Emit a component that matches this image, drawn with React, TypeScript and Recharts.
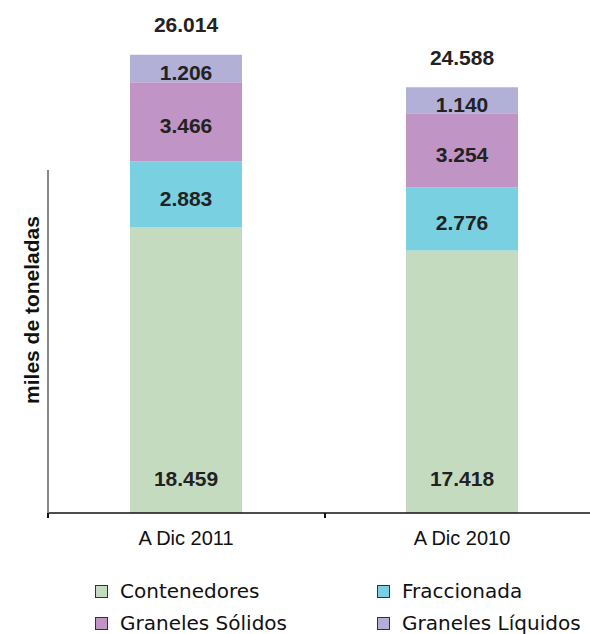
import { BarChart, Bar, XAxis, YAxis, LabelList } from 'recharts';

const periods = ['A Dic 2011', 'A Dic 2010'];
const contenedores = [18459, 17418];
const fraccionada = [2883, 2776];
const granelesSolidos = [3466, 3254];
const granelesLiquidos = [1206, 1140];

const seriesNames = ['Contenedores', 'Fraccionada', 'Graneles Sólidos', 'Graneles Líquidos'];
const seriesColors = ['#c5dbc0', '#78d0e0', '#c094c4', '#b3b0d8'];

const data = periods.map((p, i) => ({
    name: p,
    cont: contenedores[i],
    frac: fraccionada[i],
    sol: granelesSolidos[i],
    liq: granelesLiquidos[i],
    total: contenedores[i] + fraccionada[i] + granelesSolidos[i] + granelesLiquidos[i],
}));

const fmt = (v: number) => v.toLocaleString('de-DE');
const PLOT_BOTTOM = 513;

const valueStyle = { fontSize: 21, fontWeight: 700, fill: '#222', fontFamily: '"Liberation Sans", Arial, sans-serif' };

const CenterLabel = (props: any) => {
    const { x, y, width, height, value } = props;
    return (
        <text x={x + width / 2} y={y + height / 2 + 4} textAnchor="middle" dominantBaseline="central" style={valueStyle}>
            {fmt(value)}
        </text>
    );
};

const BottomLabel = (props: any) => {
    const { x, y, width, height, value } = props;
    const bottom = Math.min(y + height, PLOT_BOTTOM);
    return (
        <text x={x + width / 2} y={bottom - 35} textAnchor="middle" dominantBaseline="central" style={valueStyle}>
            {fmt(value)}
        </text>
    );
};

const TotalLabel = (props: any) => {
    const { x, y, width, value } = props;
    return (
        <text x={x + width / 2} y={y - 30} textAnchor="middle" dominantBaseline="central" style={valueStyle}>
            {fmt(value)}
        </text>
    );
};

export default function App() {
    return (
        <div style={{ position: 'absolute', left: 0, top: 0, width: 590, height: 634, overflow: 'hidden', background: '#fff', fontFamily: 'Liberation Sans, Arial, sans-serif' }}>
            <BarChart width={600} height={634} data={data} margin={{ top: 5, right: 0, left: 48, bottom: 81 }} barSize={112}>
                <YAxis hide domain={[5900, 28200]} allowDataOverflow />
                <XAxis
                    dataKey="name"
                    height={40}
                    axisLine={{ stroke: '#111', strokeWidth: 1.5 }}
                    tickLine={false}
                    tickMargin={12}
                    tick={{ fill: '#111', fontSize: 20 }}
                />
                <Bar dataKey="cont" stackId="a" fill={seriesColors[0]} isAnimationActive={false}>
                    <LabelList dataKey="cont" content={BottomLabel} />
                </Bar>
                <Bar dataKey="frac" stackId="a" fill={seriesColors[1]} isAnimationActive={false}>
                    <LabelList dataKey="frac" content={CenterLabel} />
                </Bar>
                <Bar dataKey="sol" stackId="a" fill={seriesColors[2]} isAnimationActive={false}>
                    <LabelList dataKey="sol" content={CenterLabel} />
                </Bar>
                <Bar dataKey="liq" stackId="a" fill={seriesColors[3]} isAnimationActive={false}>
                    <LabelList dataKey="liq" content={CenterLabel} />
                    <LabelList dataKey="total" content={TotalLabel} />
                </Bar>
            </BarChart>

            {/* y axis stub and tick marks */}
            <div style={{ position: 'absolute', left: 47, top: 170, width: 1.5, height: 344, background: '#888' }} />
            <div style={{ position: 'absolute', left: 47, top: 513, width: 1.5, height: 5, background: '#111' }} />
            <div style={{ position: 'absolute', left: 324, top: 513, width: 1.5, height: 5, background: '#111' }} />

            <div style={{ position: 'absolute', left: 32, top: 310, transform: 'translate(-50%, -50%) rotate(-90deg)', whiteSpace: 'nowrap', fontSize: 21, fontWeight: 700, color: '#111', lineHeight: '22px' }}>
                miles de toneladas
            </div>

            {seriesNames.map((n, i) => (
                <div key={n} style={{ position: 'absolute', left: i % 2 === 0 ? 95 : 377, top: i < 2 ? 581 : 613, height: 20, lineHeight: '20px', display: 'flex', alignItems: 'center', fontFamily: 'DejaVu Sans, sans-serif', fontSize: 20, color: '#111', whiteSpace: 'nowrap' }}>
                    <span style={{ display: 'inline-block', width: 11, height: 11, background: seriesColors[i], border: '1px solid #333', marginRight: 12 }} />
                    {n}
                </div>
            ))}
        </div>
    );
}
